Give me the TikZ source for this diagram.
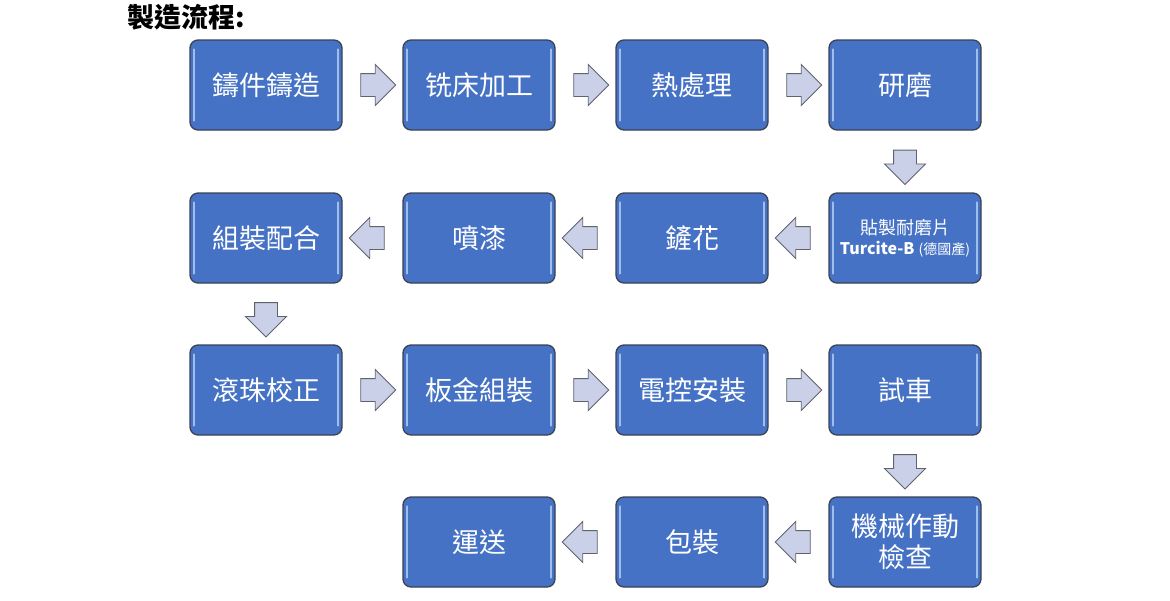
\documentclass[tikz,border=0pt]{standalone}
\usepackage{fontspec}
\newfontfamily\cjk{Noto Sans CJK TC}
\setmainfont{Liberation Sans}
\usetikzlibrary{shapes.arrows,calc}
\definecolor{boxblue}{RGB}{69,114,196}
\definecolor{boxline}{RGB}{58,66,84}
\definecolor{boxhi}{RGB}{160,190,236}
\definecolor{arrfill}{RGB}{201,208,232}
\definecolor{arrline}{RGB}{96,98,110}
\begin{document}
\begin{tikzpicture}[x=1pt,y=-1pt,
	stepbox/.style={draw=boxline,line width=1.3pt,fill=boxblue,rounded corners=8pt,
		minimum width=152pt,minimum height=90pt,inner sep=2pt,align=center,
		text=white,font=\cjk\fontsize{27}{31}\selectfont},
	highlight/.style={boxhi,line width=2pt,line cap=round},
	flowarrow/.style={single arrow,draw=arrline,line width=0.9pt,fill=arrfill,
		inner sep=11pt,minimum height=35pt,single arrow head extend=9pt}]
	\useasboundingbox (0,0) rectangle (1170,600);
	\node[anchor=west,font=\cjk\bfseries\fontsize{27}{30}\selectfont] (title) at (124,17) {製造流程:};
	% row 1
	\node[stepbox] (cast) at (266,85) {鑄件鑄造};
	\node[stepbox] (mill) at (479,85) {铣床加工};
	\node[stepbox] (heat) at (692,85) {熱處理};
	\node[stepbox] (grind) at (905,85) {研磨};
	% row 2
	\node[stepbox] (assy) at (266,238) {組裝配合};
	\node[stepbox] (paint) at (479,238) {噴漆};
	\node[stepbox] (scrape) at (692,238) {鏟花};
	\node[stepbox,font=\cjk\fontsize{18}{20}\selectfont] (turc) at (905,238)
		{貼製耐磨片\\{\fontsize{16}{20}\selectfont\bfseries Turcite-B} {\fontsize{14}{20}\selectfont(德國產)}};
	% row 3
	\node[stepbox] (ball) at (266,390) {滾珠校正};
	\node[stepbox] (sheet) at (479,390) {板金組裝};
	\node[stepbox] (elec) at (692,390) {電控安裝};
	\node[stepbox] (test) at (905,390) {試車};
	% row 4
	\node[stepbox] (ship) at (479,542) {運送};
	\node[stepbox] (pack) at (692,542) {包裝};
	\node[stepbox] (check) at (905,542) {機械作動\\檢查};
	% light edges inside the boxes
	\foreach \b in {cast,mill,heat,grind,assy,paint,scrape,turc,ball,sheet,elec,test,ship,pack,check}{
		\draw[highlight] ([xshift=5pt,yshift=-10pt]\b.north west) -- ([xshift=5pt,yshift=10pt]\b.south west);
		\draw[highlight] ([xshift=-5pt,yshift=-10pt]\b.north east) -- ([xshift=-5pt,yshift=10pt]\b.south east);
	}
	% arrows
	\node[flowarrow] (a1) at ($(cast.east)!0.5!(mill.west)$) {};
	\node[flowarrow] (a2) at ($(mill.east)!0.5!(heat.west)$) {};
	\node[flowarrow] (a3) at ($(heat.east)!0.5!(grind.west)$) {};
	\node[flowarrow,rotate=-90,minimum height=33pt] (a4) at ($(grind.south)!0.5!(turc.north)$) {};
	\node[flowarrow,rotate=180] (a5) at ($(turc.west)!0.5!(scrape.east)$) {};
	\node[flowarrow,rotate=180] (a6) at ($(scrape.west)!0.5!(paint.east)$) {};
	\node[flowarrow,rotate=180] (a7) at ($(paint.west)!0.5!(assy.east)$) {};
	\node[flowarrow,rotate=-90,minimum height=33pt] (a8) at ($(assy.south)!0.5!(ball.north)$) {};
	\node[flowarrow] (a9) at ($(ball.east)!0.5!(sheet.west)$) {};
	\node[flowarrow] (a10) at ($(sheet.east)!0.5!(elec.west)$) {};
	\node[flowarrow] (a11) at ($(elec.east)!0.5!(test.west)$) {};
	\node[flowarrow,rotate=-90,minimum height=33pt] (a12) at ($(test.south)!0.5!(check.north)$) {};
	\node[flowarrow,rotate=180] (a13) at ($(check.west)!0.5!(pack.east)$) {};
	\node[flowarrow,rotate=180] (a14) at ($(pack.west)!0.5!(ship.east)$) {};
\end{tikzpicture}
\end{document}
